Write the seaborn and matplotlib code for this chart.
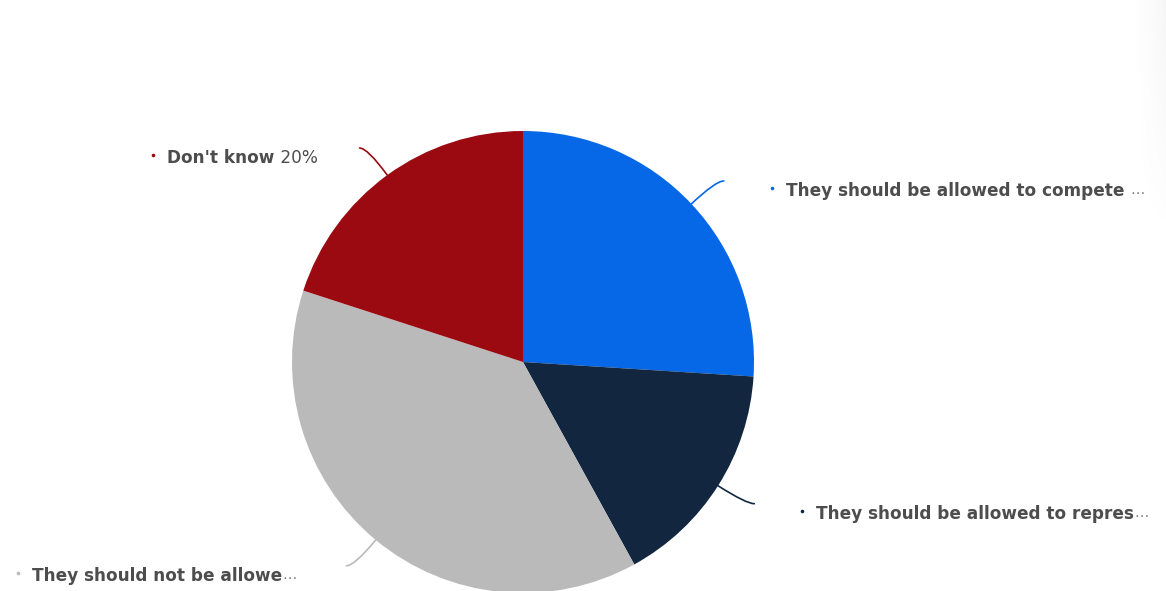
import matplotlib
matplotlib.use("Agg")
import matplotlib.pyplot as plt
import seaborn as sns
import numpy as np
from matplotlib.path import Path
from matplotlib.patches import PathPatch

# Survey answer shares (percent), in clockwise order from 12 o'clock
categories = [
    "They should be allowed to compete \u2026",
    "They should be allowed to repres\u2026",
    "They should not be allowe\u2026",
    "Don't know",
]
shares = [26, 16, 38, 20]
show_pct = [False, False, False, True]
slice_colors = ["#0768e7", "#12263f", "#bababa", "#9b0a11"]

sns.set_theme(style="white")
plt.rcParams["font.family"] = ["DejaVu Sans"]

W, H = 1166, 591
fig = plt.figure(figsize=(W / 100, H / 100), dpi=100)
ax = fig.add_axes([0, 0, 1, 1])

cx, cy, R = 523, H - 362, 231
wedges, _ = ax.pie(
    shares,
    colors=slice_colors,
    startangle=90,
    counterclock=False,
    radius=R,
    center=(cx, cy),
    wedgeprops=dict(linewidth=0),
)
ax.set_xlim(0, W)
ax.set_ylim(0, H)
ax.set_aspect("equal")
ax.axis("off")

# faint shadow along the upper right edge of the panel
gx = np.linspace(0, 1, 40)[None, :] ** 2
gy = np.clip(np.linspace(1.0, -0.4, 120), 0, 1)[:, None]
shade = np.zeros((120, 40, 4))
shade[..., :3] = 0.5
shade[..., 3] = 0.07 * gx * gy
ax.imshow(shade, extent=(W - 40, W, 0, H)[0:2] + (H - 330, H),
          origin="upper", aspect="auto", zorder=0)
ax.set_xlim(0, W)
ax.set_ylim(0, H)

text_color = "#4d4d4d"
fs = 12.2
fig.canvas.draw()
renderer = fig.canvas.get_renderer()


def text_width(t):
    bb = t.get_window_extent(renderer=renderer)
    return bb.x1 - bb.x0


for w, name, val, pct, col in zip(wedges, categories, shares, show_pct, slice_colors):
    mid = np.deg2rad((w.theta1 + w.theta2) / 2)
    d = np.array([np.cos(mid), np.sin(mid)])
    c = np.array([cx, cy])
    p0 = c + R * d
    ctrl = c + 1.145 * R * d
    side = 1 if d[0] >= 0 else -1
    end = ctrl + np.array([8 * side, 0])
    path = Path([p0, ctrl, end], [Path.MOVETO, Path.CURVE3, Path.CURVE3])
    ax.add_patch(PathPatch(path, fill=False, edgecolor=col, lw=1.2,
                           capstyle="round"))

    ly = end[1] - 8
    # a trailing ellipsis is drawn lighter than the bold label text
    truncated = name.endswith("\u2026")
    main, tail = (name[:-1], "\u2026") if truncated else (name, "")
    pieces = [(main, "bold", text_color, fs)]
    if tail:
        pieces.append((tail, "normal", "#808080", fs * 0.85))
    if pct:
        pieces.append((f" {val:.0f}%", "normal", text_color, fs))

    objs = []
    for s, wt, clr, size in pieces:
        t = ax.text(0, ly, s, fontsize=size, fontweight=wt, color=clr,
                    ha="left", va="center_baseline")
        objs.append(t)
    widths = [text_width(t) for t in objs]
    total = sum(widths)

    if side > 0:
        bx = end[0] + 48
        x = bx + 14
    else:
        x = end[0] - (50 if truncated else 42) - total
        bx = x - 14
    for t, wdt in zip(objs, widths):
        t.set_x(x)
        x += wdt
    ax.plot([bx], [ly + 1], marker="o", markersize=2.6, color=col,
            markeredgewidth=0)

fig.savefig("out.png", dpi=100, facecolor="white")
